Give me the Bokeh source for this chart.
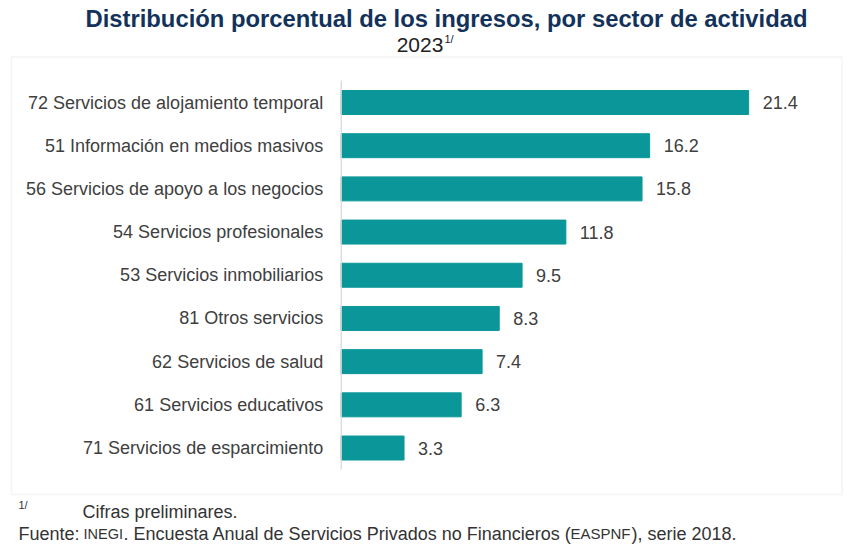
from bokeh.plotting import figure
from bokeh.models import Range1d, BoxAnnotation, ColumnDataSource
from bokeh.core.properties import value
from bokeh.embed import file_html
from bokeh.resources import INLINE

# ---- data ----
categories = [
    "72 Servicios de alojamiento temporal",
    "51 Información en medios masivos",
    "56 Servicios de apoyo a los negocios",
    "54 Servicios profesionales",
    "53 Servicios inmobiliarios",
    "81 Otros servicios",
    "62 Servicios de salud",
    "61 Servicios educativos",
    "71 Servicios de esparcimiento",
]
values = [21.4, 16.2, 15.8, 11.8, 9.5, 8.3, 7.4, 6.3, 3.3]
value_labels = [f"{v:.1f}" for v in values]

title_text = "Distribución porcentual de los ingresos, por sector de actividad"
subtitle_text = "2023"
note_mark = "1/"
note_text = "Cifras preliminares."
source_parts = ["Fuente:", "INEGI", ". Encuesta Anual de Servicios Privados no Financieros (", "EASPNF", "), serie 2018."]

# ---- layout helpers (picture pixel -> data) ----
W, H = 848, 548
SCALE = 19.04     # px per percentage point
X0 = 340.7        # x of 0 %
Y0 = 102.0        # y of first bar centre
STEP = 43.19      # px between bars


def xd(px):
    return (px - X0) / SCALE


def yd(py):
    return (py - Y0) / STEP


FONT = value("Liberation Sans")
TXT = "#404040"

p = figure(width=W, height=H, output_backend="svg", toolbar_location=None,
           x_range=Range1d(xd(0), xd(W)), y_range=Range1d(yd(H), yd(0)),
           x_axis_type=None, y_axis_type=None, min_border=0)
p.outline_line_color = None
p.xgrid.visible = False
p.ygrid.visible = False
p.background_fill_color = "white"

idx = list(range(len(categories)))
src = ColumnDataSource(dict(y=idx, v=values, cat=categories, lab=value_labels, zero=[0] * len(values)))

# chart box
p.add_layout(BoxAnnotation(left=xd(11), right=xd(841.5), top=yd(56.5), bottom=yd(494),
                           fill_alpha=0, line_color="#dadada", line_width=1.5))

# bars
p.hbar(y="y", left="zero", right="v", height=0.555, source=src, color="#0b979a")

# axis line
p.segment(x0=[0], x1=[0], y0=[yd(80)], y1=[yd(469)], line_color="#d9d9d9", line_width=1.3)

# category labels
p.text(x="zero", y="y", text="cat", source=src, x_offset=-18, text_align="right",
       text_baseline="middle", text_font=FONT, text_font_size="18px", text_color=TXT)
# value labels
p.text(x="v", y="y", text="lab", source=src, x_offset=14, text_align="left",
       text_baseline="middle", text_font=FONT, text_font_size="18px", text_color=TXT)

# title
p.text(x=[xd(446)], y=[yd(18)], text=[title_text], text_align="center", text_baseline="middle",
       text_font=FONT, text_font_size="23.8px", text_font_style="bold", text_color="#13325b")
p.text(x=[xd(419.5)], y=[yd(44)], text=[subtitle_text], text_align="center", text_baseline="middle",
       text_font=FONT, text_font_size="21px", text_color="#222222")
p.text(x=[xd(444)], y=[yd(38)], text=[note_mark], text_align="left", text_baseline="middle",
       text_font=FONT, text_font_size="11px", text_color="#222222")

# footer
p.text(x=[xd(18)], y=[yd(504)], text=[note_mark], text_align="left", text_baseline="middle",
       text_font=FONT, text_font_size="11px", text_color="#333333")
p.text(x=[xd(82)], y=[yd(511)], text=[note_text], text_align="left", text_baseline="middle",
       text_font=FONT, text_font_size="18px", text_color="#333333")
src_x = [18, 83, 123, 570, 631]
src_sz = ["18px", "14.5px", "18px", "15px", "18px"]
for part, sx, sz in zip(source_parts, src_x, src_sz):
    p.text(x=[xd(sx)], y=[yd(533)], text=[part], text_align="left", text_baseline="middle",
           text_font=FONT, text_font_size=sz, text_color="#333333")

open("out.html", "w").write(file_html(p, INLINE))
